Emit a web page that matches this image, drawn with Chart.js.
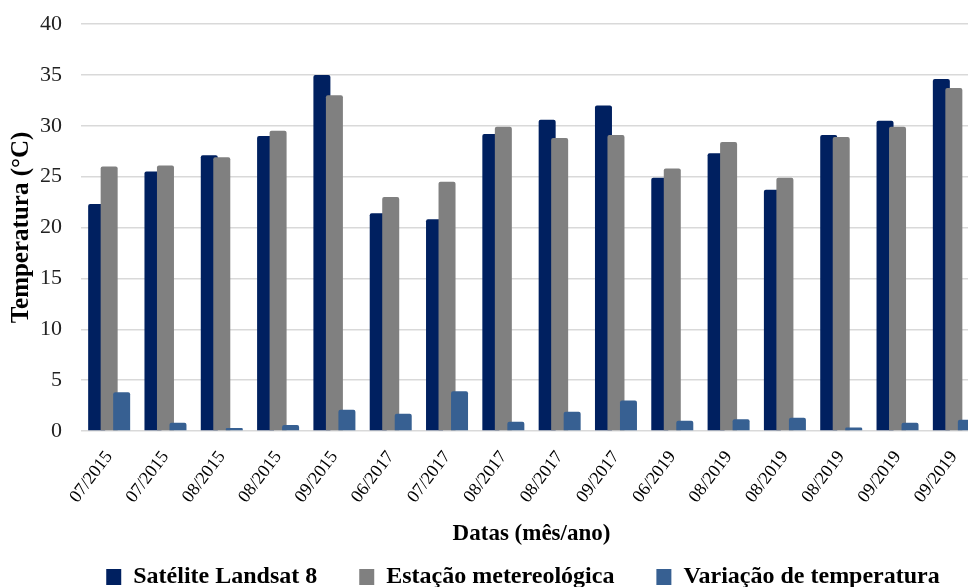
<!DOCTYPE html>
<html>
<head>
<meta charset="utf-8">
<script src="https://cdn.jsdelivr.net/npm/chart.js@4"></script>
<style>
  html, body { margin: 0; padding: 0; background: #fff; overflow: hidden; }
  #wrap { position: relative; width: 1046px; height: 587px; }
</style>
</head>
<body>
<div id="wrap"><canvas id="c"></canvas></div>
<script>
// Dates of the Landsat 8 passes (month/year)
const categories = ['07/2015', '07/2015', '08/2015', '08/2015', '09/2015', '06/2017', '07/2017', '08/2017',
                    '08/2017', '09/2017', '06/2019', '08/2019', '08/2019', '08/2019', '09/2019', '09/2019'];

// Surface temperature from the satellite (°C)
const satelite = [22.3, 25.5, 27.1, 29.0, 35.0, 21.4, 20.8, 29.2, 30.6, 32.0, 24.9, 27.3, 23.7, 29.1, 30.5, 34.6];
// Air temperature from the weather station (°C)
const estacao = [26.0, 26.1, 26.9, 29.5, 33.0, 23.0, 24.5, 29.9, 28.8, 29.1, 25.8, 28.4, 24.9, 28.9, 29.9, 33.7];
// Difference between both readings (°C)
const variacao = [3.8, 0.8, 0.3, 0.6, 2.1, 1.7, 3.9, 0.9, 1.9, 3.0, 1.0, 1.15, 1.3, 0.35, 0.8, 1.1];

const yTicks = [0, 5, 10, 15, 20, 25, 30, 35, 40];

const serif = "'Liberation Serif', 'Times New Roman', serif";

// Overlapping bars: draw the datasets so that each later series sits in front
const overlapOrder = {
  id: 'overlapOrder',
  beforeDatasetsDraw(chart) {
    const metas = chart.getSortedVisibleDatasetMetas().slice().sort((a, b) => a.index - b.index);
    metas.forEach(m => m.controller.draw());
    return false;
  }
};

const barStyle = { barPercentage: 1.36, categoryPercentage: 0.666, borderRadius: 2 };

new Chart(document.getElementById('c'), {
  type: 'bar',
  data: {
    labels: categories,
    datasets: [
      Object.assign({ label: 'Satélite Landsat 8', data: satelite, backgroundColor: '#002060' }, barStyle),
      Object.assign({ label: 'Estação metereológica', data: estacao, backgroundColor: '#808080' }, barStyle),
      Object.assign({ label: 'Variação de temperatura', data: variacao, backgroundColor: '#376092' }, barStyle)
    ]
  },
  options: {
    responsive: true,
    maintainAspectRatio: false,
    animation: false,
    layout: { padding: { top: 24, left: 0, right: 0, bottom: -12 } },
    plugins: {
      legend: {
        position: 'bottom',
        labels: {
          font: { family: serif, size: 24, weight: 'bold' },
          color: '#000',
          boxWidth: 15,
          boxHeight: 16,
          padding: 42
        }
      },
      tooltip: { enabled: false }
    },
    scales: {
      x: {
        afterFit(scale) { scale.height = 92; },
        grid: { display: false },
        border: { display: false },
        ticks: {
          font: { family: serif, size: 18 },
          color: '#000',
          minRotation: 53,
          maxRotation: 53,
          padding: 8
        },
        title: {
          display: true,
          text: 'Datas (mês/ano)',
          font: { family: serif, size: 23, weight: 'bold' },
          color: '#000',
          padding: { top: 0, bottom: -25 }
        }
      },
      y: {
        min: 0,
        max: 40,
        afterBuildTicks(scale) { scale.ticks = yTicks.map(v => ({ value: v })); },
        afterFit(scale) { scale.width = 81; },
        grid: { color: '#d9d9d9', lineWidth: 1.5, drawTicks: true, tickLength: 19, tickColor: 'rgba(0,0,0,0)' },
        border: { display: false },
        ticks: {
          font: { family: serif, size: 22 },
          color: '#222',
          padding: 0
        },
        title: {
          display: true,
          text: 'Temperatura (°C)',
          font: { family: serif, size: 25, weight: 'bold' },
          color: '#000',
          padding: { top: 7, bottom: 0 }
        }
      },
      // empty spacer on the right so the plot runs past the visible edge
      yRight: {
        position: 'right',
        display: true,
        grid: { display: false },
        border: { display: false },
        ticks: { display: false },
        afterFit(scale) { scale.width = 64; }
      }
    }
  },
  plugins: [overlapOrder]
});
</script>
</body>
</html>
